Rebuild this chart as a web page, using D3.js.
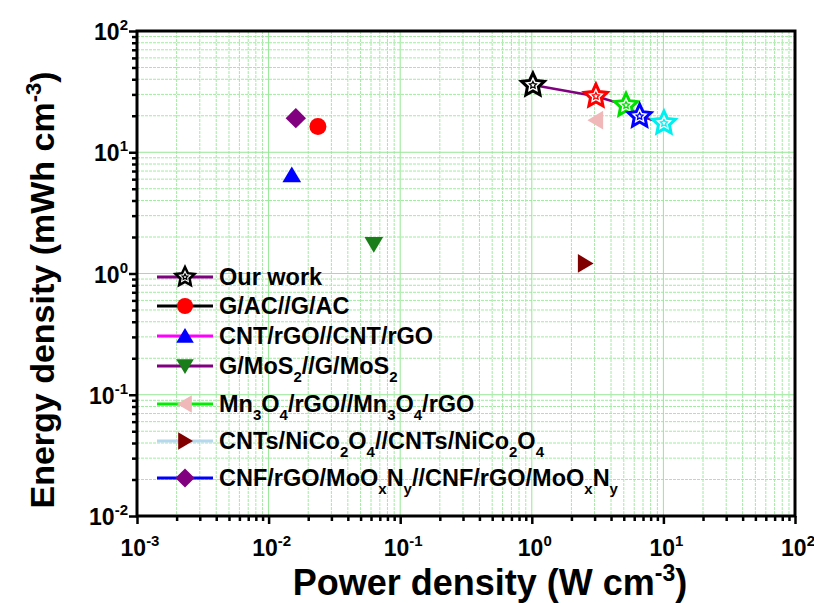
<!DOCTYPE html>
<html><head><meta charset="utf-8">
<script src="https://cdn.jsdelivr.net/npm/d3@7"></script>
<style>body{margin:0;background:#fff}svg{display:block;font-family:"Liberation Sans",Arial,sans-serif;font-weight:bold}</style>
</head><body><svg id="c" width="814" height="603"></svg>
<script>
// ---- data ----
const ourWorkX = [1.02, 3.07, 5.2, 6.6, 10.1];
const ourWorkY = [35.8, 29.0, 24.4, 19.8, 17.4];
const refNames = ["G/AC//G/AC", "CNT/rGO//CNT/rGO", "G/MoS_{2}//G/MoS_{2}", "Mn_{3}O_{4}/rGO//Mn_{3}O_{4}/rGO", "CNTs/NiCo_{2}O_{4}//CNTs/NiCo_{2}O_{4}", "CNF/rGO/MoO_{x}N_{y}//CNF/rGO/MoO_{x}N_{y}"];
const refX = [0.0237, 0.0150, 0.063, 3.07, 2.54, 0.0161];
const refY = [16.3, 6.5, 1.74, 18.4, 1.21, 19.1];
const xTicks = [1e-3, 1e-2, 1e-1, 1e0, 1e1, 1e2];
const xTickExp = ["-3", "-2", "-1", "0", "1", "2"];
const yTicks = [1e-2, 1e-1, 1e0, 1e1, 1e2];
const yTickExp = ["-2", "-1", "0", "1", "2"];

// ---- styles ----
const starColors = ["#000000", "#ff0000", "#00e000", "#0000ff", "#00f0f0"];
const refShapes = ["circle", "up", "down", "left", "right", "diamond"];
const refFill = ["#ff0000", "#0000ff", "#197d19", "#f0b8b8", "#800000", "#800080"];
const legendLine = ["#800080", "#000000", "#ff00ff", "#800080", "#00ee00", "#b4d8ee", "#0000ff"];

const svg = d3.select("#c");
const L = 137, R = 795, T = 31, B = 516;
const x = d3.scaleLog().domain([1e-3, 1e2]).range([L, R]);
const y = d3.scaleLog().domain([1e-2, 1e2]).range([B, T]);

const minorX = [], minorY = [];
for (let e = -3; e < 2; e++) for (let m = 2; m <= 9; m++) minorX.push(m * Math.pow(10, e));
for (let e = -2; e < 2; e++) for (let m = 2; m <= 9; m++) minorY.push(m * Math.pow(10, e));

// grid
const g = svg.append("g");
g.selectAll(".gx").data(minorX).join("line").attr("x1", d => x(d)).attr("x2", d => x(d)).attr("y1", T).attr("y2", B)
  .attr("stroke", "#a0eca0").attr("stroke-width", 1).attr("stroke-dasharray", "3,1");
g.selectAll(".gy").data(minorY).join("line").attr("y1", d => y(d)).attr("y2", d => y(d)).attr("x1", L).attr("x2", R)
  .attr("stroke", "#a0eca0").attr("stroke-width", 1).attr("stroke-dasharray", "3,1");
g.selectAll(".gxM").data(xTicks).join("line").attr("x1", d => x(d)).attr("x2", d => x(d)).attr("y1", T).attr("y2", B)
  .attr("stroke", "#96e696").attr("stroke-width", 1);
g.selectAll(".gyM").data(yTicks).join("line").attr("y1", d => y(d)).attr("y2", d => y(d)).attr("x1", L).attr("x2", R)
  .attr("stroke", "#96e696").attr("stroke-width", 1);

// frame
svg.append("rect").attr("x", L).attr("y", T).attr("width", R - L).attr("height", B - T)
  .attr("fill", "none").attr("stroke", "#000").attr("stroke-width", 3);

// axes ticks
function styleAxis(sel) { sel.select(".domain").remove(); sel.selectAll("line").attr("stroke", "#000").attr("stroke-width", 2.5); sel.selectAll("text").remove(); }
svg.append("g").attr("transform", `translate(0,${B})`).call(d3.axisBottom(x).tickValues(xTicks).tickSize(8)).call(styleAxis);
svg.append("g").attr("transform", `translate(0,${B})`).call(d3.axisBottom(x).tickValues(minorX).tickSize(5)).call(styleAxis);
svg.append("g").attr("transform", `translate(${L},0)`).call(d3.axisLeft(y).tickValues(yTicks).tickSize(8)).call(styleAxis);
svg.append("g").attr("transform", `translate(${L},0)`).call(d3.axisLeft(y).tickValues(minorY).tickSize(5)).call(styleAxis);

// tick labels
xTicks.forEach((v, i) => {
  const t = svg.append("text").attr("x", x(v) + 3).attr("y", 556).attr("text-anchor", "middle").attr("font-size", 23);
  t.append("tspan").text("10");
  t.append("tspan").attr("dy", -10).attr("font-size", 15).text(xTickExp[i]);
});
yTicks.forEach((v, i) => {
  const t = svg.append("text").attr("x", 128).attr("y", y(v) + 9).attr("text-anchor", "end").attr("font-size", 23);
  t.append("tspan").text("10");
  t.append("tspan").attr("dy", -10).attr("font-size", 15).text(yTickExp[i]);
});

// axis titles
const xt = svg.append("text").attr("x", 490).attr("y", 595).attr("text-anchor", "middle").attr("font-size", 36);
xt.append("tspan").text("Power density (W cm");
xt.append("tspan").attr("dy", -14).attr("font-size", 23).text("-3");
xt.append("tspan").attr("dy", 14).text(")");
const yt = svg.append("text").attr("transform", "translate(54,290) rotate(-90)").attr("text-anchor", "middle").attr("font-size", 34);
yt.append("tspan").text("Energy density (mWh cm");
yt.append("tspan").attr("dy", -13).attr("font-size", 22).text("-3");
yt.append("tspan").attr("dy", 13).text(")");

// markers
function shapePath(s, r) {
  switch (s) {
    case "up": return `M0,${-r}L${r * 1.1},${r * 0.85}L${-r * 1.1},${r * 0.85}Z`;
    case "down": return `M0,${r}L${r * 1.1},${-r * 0.85}L${-r * 1.1},${-r * 0.85}Z`;
    case "left": return `M${-r},0L${r * 0.85},${-r * 1.1}L${r * 0.85},${r * 1.1}Z`;
    case "right": return `M${r},0L${-r * 0.85},${-r * 1.1}L${-r * 0.85},${r * 1.1}Z`;
    case "diamond": return `M0,${-r * 1.2}L${r * 1.2},0L0,${r * 1.2}L${-r * 1.2},0Z`;
    default: return d3.arc()({ innerRadius: 0, outerRadius: r, startAngle: 0, endAngle: 2 * Math.PI });
  }
}
function starPath(R0, ratio) {
  const p = [];
  for (let k = 0; k < 10; k++) {
    const a = -Math.PI / 2 + k * Math.PI / 5;
    const r = k % 2 ? R0 * ratio : R0;
    p.push([r * Math.cos(a), r * Math.sin(a)]);
  }
  return "M" + p.map(q => q.join(",")).join("L") + "Z";
}
function drawStar(gp, cx, cy, R0, col, sw) {
  const s = gp.append("g").attr("transform", `translate(${cx},${cy})`);
  s.append("path").attr("d", starPath(R0, 0.48)).attr("fill", "#fff").attr("stroke", col).attr("stroke-width", sw).attr("stroke-linejoin", "miter");
  s.append("path").attr("d", starPath(R0 * 0.3, 0.5)).attr("fill", "#fff").attr("stroke", col).attr("stroke-width", 1.3);
}

// our work line + stars
const pts = ourWorkX.map((v, i) => [x(v), y(ourWorkY[i])]);
svg.append("path").attr("d", d3.line()(pts)).attr("fill", "none").attr("stroke", "#800080").attr("stroke-width", 2.5);
pts.forEach((p, i) => drawStar(svg, p[0], p[1], 12, starColors[i], 3));

// reference points
refX.forEach((v, i) => {
  svg.append("path").attr("transform", `translate(${x(v)},${y(refY[i])})`).attr("d", shapePath(refShapes[i], 8.5)).attr("fill", refFill[i]);
});

// legend
const rowsY = [277, 306, 336, 366, 404, 441, 478];
const labels = ["Our work"].concat(refNames);
labels.forEach((lab, i) => {
  const cy = rowsY[i];
  svg.append("line").attr("x1", 157).attr("x2", 213).attr("y1", cy).attr("y2", cy).attr("stroke", legendLine[i]).attr("stroke-width", 3);
  if (i === 0) drawStar(svg, 185, cy, 10, "#000", 2.5);
  else svg.append("path").attr("transform", `translate(185,${cy})`).attr("d", shapePath(refShapes[i - 1], 8)).attr("fill", refFill[i - 1]);
  const t = svg.append("text").attr("x", 219).attr("y", cy + 8).attr("font-size", 23.5);
  const parts = lab.split(/(_\{[^}]*\})/).filter(p => p.length);
  let sub = false;
  parts.forEach(p => {
    if (p.startsWith("_{")) {
      t.append("tspan").attr("dy", sub ? 0 : 8).attr("font-size", 15).text(p.slice(2, -1));
      sub = true;
    } else {
      t.append("tspan").attr("dy", sub ? -8 : 0).text(p);
      sub = false;
    }
  });
});
</script></body></html>
